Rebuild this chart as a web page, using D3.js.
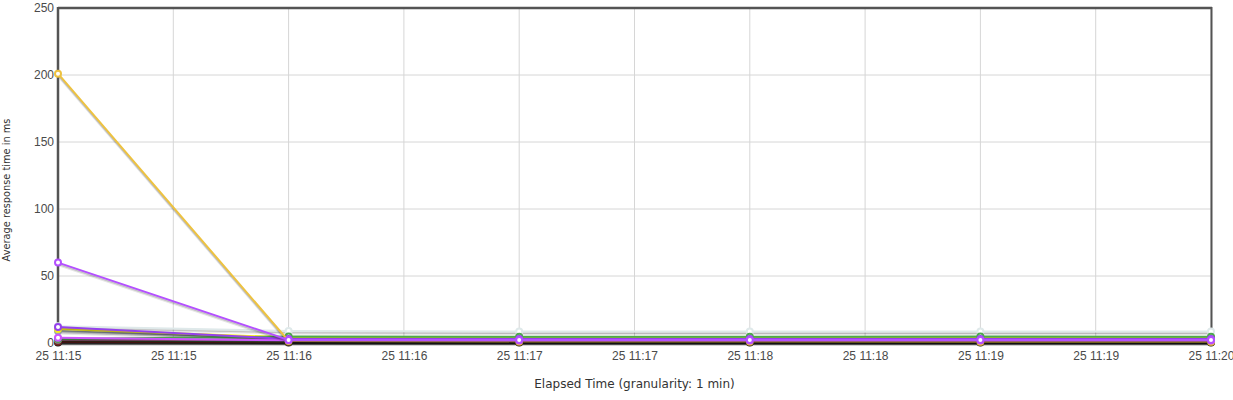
<!DOCTYPE html>
<html><head><meta charset="utf-8">
<script src="https://cdn.jsdelivr.net/npm/d3@7"></script>
<style>
html,body{margin:0;padding:0;background:#fff;}
svg{display:block;}
.tick text{font-family:"Liberation Sans",Arial,sans-serif;font-size:12px;fill:#4a4a4a;}
.title{font-family:"DejaVu Sans",Verdana,sans-serif;fill:#333;}
</style></head>
<body>
<svg id="chart" width="1233" height="400"></svg>
<script>
// ---- data ----
const timeLabels = ["2024-01-25T11:15:00Z","2024-01-25T11:16:00Z","2024-01-25T11:17:00Z","2024-01-25T11:18:00Z","2024-01-25T11:19:00Z","2024-01-25T11:20:00Z"];
const seriesNames = ["Black","Olive","Dark red","Dark green","Mauve","Gray","Pale","Yellow","Green","Violet","Gold","Magenta","Purple"];
const seriesColors = ["#111111","#8b6b10","#7a2222","#2d5a2d","#b86a9a","#9aa3ad","#dfe9ea","#f2ec1a","#4da74d","#9440ed","#edc240","#cc55ff","#b450ff"];
const seriesValues = [
  [0.3,0.3,0.3,0.3,0.3,0.3],
  [1.5,0.8,0.8,0.8,0.8,0.8],
  [1.0,1.0,1.0,1.0,1.0,1.0],
  [2.0,1.2,1.2,1.2,1.2,1.2],
  [2.5,2.0,2.0,2.0,2.0,2.0],
  [9,3.5,3.5,3.5,3.5,3.5],
  [12.5,9,8.5,8.5,8.5,8.5],
  [10.5,4.2,4.0,4.0,4.2,4.0],
  [3.0,4.8,4.6,4.6,4.8,4.6],
  [12,3.0,3.0,3.0,3.0,3.0],
  [201,1.5,1.2,1.2,1.0,1.0],
  [4.0,2.0,1.8,1.8,1.8,1.8],
  [60,2.3,2.2,2.2,2.2,2.2]
];
const yTicks = [0,50,100,150,200,250];

// ---- layout ----
const svg = d3.select("#chart");
const L = 58, R = 1211, T = 8, B = 343;
const times = timeLabels.map(s => new Date(s));
const x = d3.scaleUtc().domain([times[0], times[times.length-1]]).range([L, R]);
const y = d3.scaleLinear().domain([0, 250]).range([B, T]);
const xTicks = d3.range(0, 11).map(i => new Date(times[0].getTime() + i * 30000));
const fmt = d3.utcFormat("%d %H:%M");

// grid
svg.append("g").selectAll("line.v").data(xTicks).join("line")
  .attr("x1", d => x(d)).attr("x2", d => x(d)).attr("y1", T).attr("y2", B)
  .attr("stroke", "#d6d6d6").attr("stroke-width", 1);
svg.append("g").selectAll("line.h").data(yTicks).join("line")
  .attr("x1", L).attr("x2", R).attr("y1", d => y(d)).attr("y2", d => y(d))
  .attr("stroke", "#d6d6d6").attr("stroke-width", 1);

// axes
const gx = svg.append("g").attr("transform", `translate(0,${B})`)
  .call(d3.axisBottom(x).tickValues(xTicks).tickFormat(fmt).tickSize(0).tickPadding(8));
gx.select(".domain").remove();
const gy = svg.append("g").attr("transform", `translate(${L},0)`)
  .call(d3.axisLeft(y).tickValues(yTicks).tickSize(0).tickPadding(4));
gy.select(".domain").remove();
gy.selectAll(".tick text").attr("dy", "0.25em");

// border
svg.append("line").attr("x1", L).attr("x2", R+1).attr("y1", T).attr("y2", T).attr("stroke", "#545454").attr("stroke-width", 2.5);
svg.append("line").attr("x1", L).attr("x2", L).attr("y1", T-1).attr("y2", B+2).attr("stroke", "#545454").attr("stroke-width", 2.5);
svg.append("line").attr("x1", R+0.5).attr("x2", R+0.5).attr("y1", T-1).attr("y2", B+1).attr("stroke", "#545454").attr("stroke-width", 2);
svg.append("line").attr("x1", L).attr("x2", R).attr("y1", B+1).attr("y2", B+1).attr("stroke", "#545454").attr("stroke-width", 1);

// series
const line = d3.line().x((d,i) => x(times[i])).y(d => y(d));
const gs = svg.append("g");
seriesValues.forEach((vals, k) => {
  const g = gs.append("g").attr("class", "series").attr("data-name", seriesNames[k]);
  g.append("path").attr("d", line(vals)).attr("fill", "none")
    .attr("stroke", "rgba(0,0,0,0.1)").attr("stroke-width", 2).attr("transform", "translate(0,2.5)");
  g.append("path").attr("d", line(vals)).attr("fill", "none")
    .attr("stroke", "rgba(0,0,0,0.18)").attr("stroke-width", 2).attr("transform", "translate(0,1.3)");
  g.append("path").attr("d", line(vals)).attr("fill", "none")
    .attr("stroke", seriesColors[k]).attr("stroke-width", 2);
  g.selectAll("circle").data(vals).join("circle")
    .attr("cx", (d,i) => x(times[i])).attr("cy", d => y(d)).attr("r", 3)
    .attr("fill", "#fff").attr("stroke", seriesColors[k]).attr("stroke-width", 2);
});

// titles
svg.append("text").attr("class", "title").attr("x", (L+R)/2).attr("y", 388)
  .attr("font-size", "12px").attr("text-anchor", "middle").text("Elapsed Time (granularity: 1 min)");
svg.append("text").attr("class", "title").attr("transform", "translate(10,190) rotate(-90)")
  .attr("font-size", "9.8px").attr("text-anchor", "middle").text("Average response time in ms");
</script>
</body></html>
